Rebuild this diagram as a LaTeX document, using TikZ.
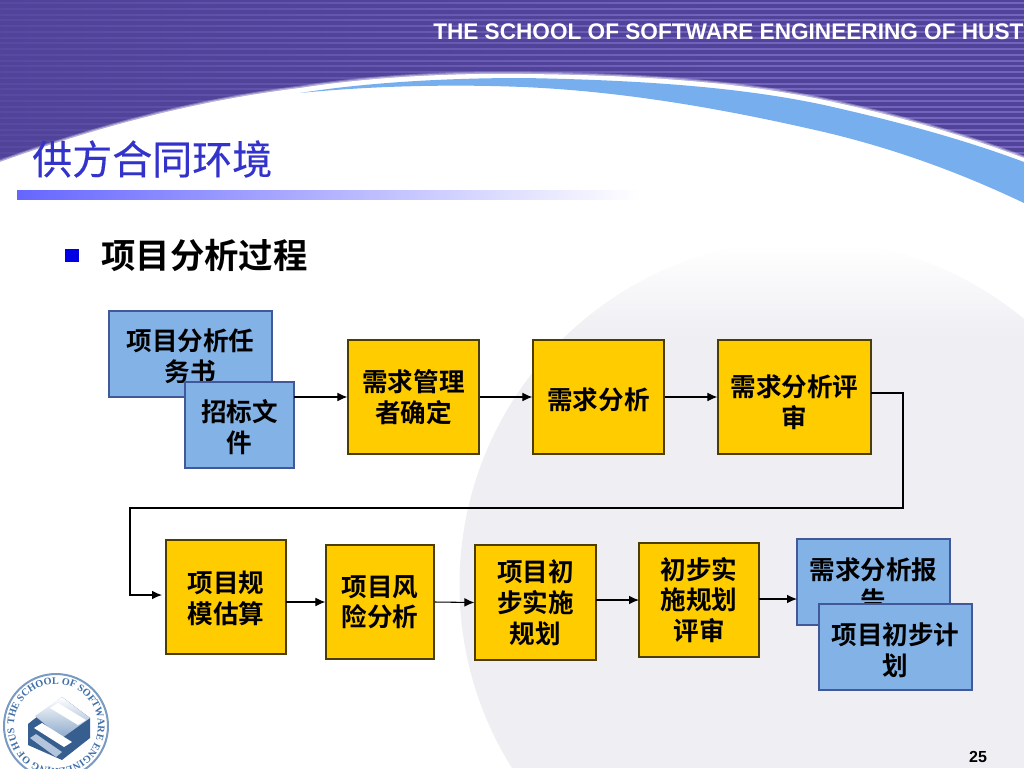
\documentclass[tikz,border=0pt]{standalone}
\usepackage{fontspec}
\setmainfont{Liberation Sans}
\newfontfamily\serifb{Liberation Serif}
\newfontfamily\cjkb[BoldFont={Noto Sans CJK SC Bold}]{Noto Sans CJK SC}
\newfontfamily\cjkt[FakeBold=0.35]{Noto Sans CJK SC}
\usetikzlibrary{arrows.meta,decorations.text,shadings,fadings}
\renewcommand{\arraystretch}{0.97}
\definecolor{hdr}{HTML}{51439A}
\definecolor{hdrl}{HTML}{7364BE}
\definecolor{bandc}{HTML}{76AEEE}
\definecolor{boxy}{HTML}{FFCC00}
\definecolor{boxb}{HTML}{83B3E6}
\definecolor{ttl}{HTML}{3333CC}
\definecolor{sph}{HTML}{EEEEF3}
\definecolor{sealc}{HTML}{3F6FA8}
\tikzset{
 flow/.style={draw=black!70!boxy,line width=0.85pt,fill=boxy,inner sep=0pt,font=\fontsize{19.2}{22.5}\selectfont\cjkb\bfseries,text=black},
 doc/.style={draw=black!70!blue!50!boxb,line width=0.85pt,fill=boxb,inner sep=0pt,font=\fontsize{19.2}{22.5}\selectfont\cjkb\bfseries,text=black},
 conn/.style={draw=black,line width=0.8pt,-{Latex[length=7.5pt,width=6.5pt]}}
}
% style, name, x1, y1, x2, y2, downward text offset (pt), text
\newcommand{\bx}[8]{\node[#1,minimum width=#5*0.75pt-#3*0.75pt,minimum height=#6*0.75pt-#4*0.75pt,anchor=center] (#2) at ({(#3+#5)/2},{(#4+#6)/2}) {\raisebox{-\dimexpr#7pt+2.5pt\relax}[\height][\depth]{\begin{tabular}{@{}c@{}}#8\end{tabular}}};}
\newcommand{\sweeptop}{(0,162) .. controls (100,126) and (200,100) .. (300,88) .. controls (370,77) and (450,73) .. (523,74) .. controls (640,75) and (740,82) .. (824,100) .. controls (900,116) and (965,136) .. (1024,158)}
\begin{document}
\begin{tikzpicture}[x=0.75pt,y=-0.75pt]
\useasboundingbox (0,0) rectangle (1024,768);
\fill[white] (0,0) rectangle (1024,768);
% header band with stripes
\begin{scope}
\clip (0,0) rectangle (1024,210);
\fill[hdr] (0,0) rectangle (1024,210);
\foreach \yy in {3,8.75,...,210} \draw[hdrl,line width=1.5pt] (0,\yy) -- (1024,\yy);
\fill[hdr,opacity=0.8,path fading=east] (0,0) rectangle (720,210);
\end{scope}
% soft edge and white sweep
\draw[white,opacity=0.25,line width=3.5pt] \sweeptop;
\draw[white,opacity=0.4,line width=2pt] \sweeptop;
\fill[white] \sweeptop -- (1024,768) -- (0,768) -- cycle;
% background sphere
\begin{scope}
\clip (0,210) rectangle (1024,768);
\clip (804.5,585) circle[radius=345*0.75pt];
\shade[top color=white,bottom color=sph] (0,245) rectangle (1024,340);
\fill[sph] (0,339.5) rectangle (1024,768);
\end{scope}
% blue band
\fill[bandc] (300,93) .. controls (370,82) and (450,78) .. (523,78)
  .. controls (640,80) and (740,87) .. (824,105)
  .. controls (900,122) and (965,140) .. (1024,162)
  -- (1024,203) .. controls (965,175) and (900,150) .. (824,132)
  .. controls (750,115) and (640,92) .. (523,87)
  .. controls (450,84) and (370,86) .. (300,93) -- cycle;
\node[anchor=west,inner sep=0pt,text=white,font=\fontsize{16.95}{19}\selectfont\bfseries] (school) at (433,32) {THE SCHOOL OF SOFTWARE ENGINEERING OF HUST};
\node[anchor=west,inner sep=0pt,text=ttl,font=\fontsize{30}{34}\selectfont\cjkt] (title) at (32,159) {供方合同环境};
\shade[left color=blue!60!white,right color=white] (17,190) rectangle (640,199);
\fill[blue!90!black] (65,249) rectangle (79,262);
\node[anchor=west,inner sep=0pt,text=black,font=\fontsize{25.8}{30}\selectfont\cjkb\bfseries] (head) at (101,255) {项目分析过程};
% boxes
\bx{doc}{da}{109}{311}{272}{397}{1.5}{项目分析任\\务书}
\bx{doc}{db}{185}{382}{294}{468}{1.5}{招标文\\件}
\bx{flow}{fa}{348}{340}{479}{454}{0}{需求管理\\者确定}
\bx{flow}{fb}{533}{340}{664}{454}{2.2}{需求分析}
\bx{flow}{fc}{718}{340}{871}{454}{3.7}{需求分析评\\审}
\bx{flow}{fd}{166}{540}{286}{654}{0.7}{项目规\\模估算}
\bx{flow}{fe}{326}{545}{434}{659}{0}{项目风\\险分析}
\bx{flow}{ff}{475}{545}{596}{660}{0}{项目初\\步实施\\规划}
\bx{flow}{fg}{639}{543}{759}{657}{0}{初步实\\施规划\\评审}
\bx{doc}{dc}{797}{539}{950}{625}{2.2}{需求分析报\\告}
\bx{doc}{dd}{819}{604}{972}{690}{2.2}{项目初步计\\划}
% connectors
\coordinate (ca) at (294,397);
\draw[conn] (ca) -- (fa.west);
\draw[conn] (fa.east) -- (fb.west);
\draw[conn] (fb.east) -- (fc.west);
\coordinate (r0) at (871,393);
\coordinate (r1) at (903,393);
\coordinate (r2) at (903,508);
\coordinate (r3) at (130,508);
\coordinate (r4) at (130,595);
\coordinate (r5) at (162,595);
\draw[conn] (r0) -- (r1) -- (r2) -- (r3) -- (r4) -- (r5);
\coordinate (s0) at (286,602);
\draw[conn] (s0) -- (fe.west);
\draw[conn] (fe.east) -- (ff.west);
\coordinate (s2) at (596,600);
\coordinate (s3) at (639,600);
\draw[conn] (s2) -- (s3);
\coordinate (s4) at (759,599);
\coordinate (s5) at (797,599);
\draw[conn] (s4) -- (s5);
% seal
\begin{scope}
\clip (0,660) rectangle (130,768);
\draw[draw=sealc!70!white,line width=1.5pt] (56,726) circle[radius=39pt];
\path[postaction={decorate,decoration={text along path,text align={fit to path},text={|\fontsize{7.6}{9}\serifb\bfseries\color{sealc}|THE SCHOOL OF SOFTWARE ENGINEERING OF HUST}}}]
  (56,726) ++(178:31.5pt) arc[start angle=178,end angle=-178,radius=31.5pt];
\fill[sealc!85!black] (28,724) -- (62,697) -- (90,718) -- (90,738) -- (62,760) -- (28,745) -- cycle;
\shade[top color=white,bottom color=sealc!60!white] (35,716) -- (62,697) -- (90,718) -- (62,738) -- cycle;
\fill[white] (50,708) -- (58,703) -- (86,720) -- (78,725) -- cycle;
\fill[white] (34,728) -- (42,723) -- (72,742) -- (64,747) -- cycle;
\fill[sealc!40!white] (30,738) -- (36,734) -- (62,752) -- (56,757) -- cycle;
\end{scope}
\node[inner sep=0pt,font=\fontsize{12}{14}\selectfont\bfseries] (pg) at (978,757) {25};
\end{tikzpicture}
\end{document}
